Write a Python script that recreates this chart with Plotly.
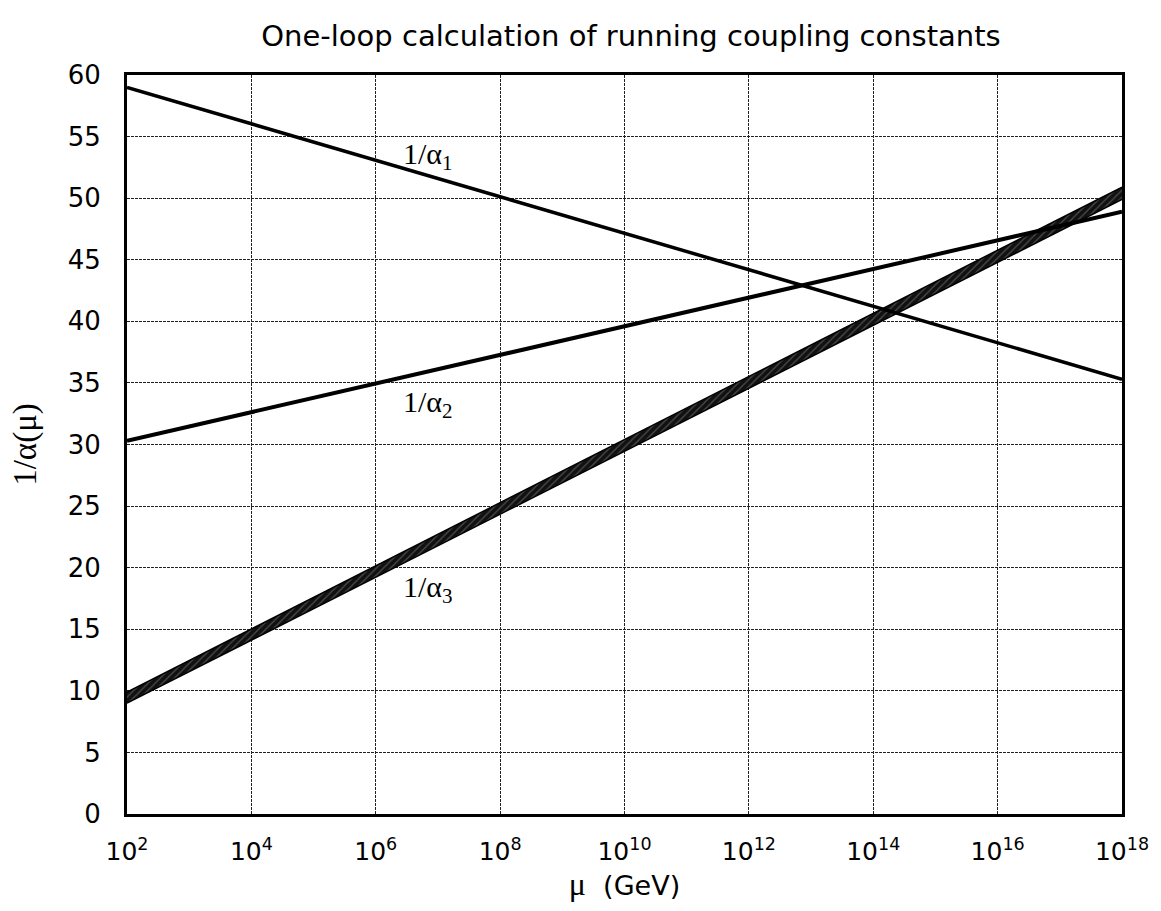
import plotly.graph_objects as go

# Energy scale endpoints (GeV) and inverse couplings read at each end
mu = [1e2, 1e18]
inv_alpha1 = [59.0, 35.3]
inv_alpha2 = [30.3, 48.9]
inv_alpha3_low = [9.0, 49.9]
inv_alpha3_high = [9.9, 50.9]

x_tickvals = [1e2, 1e4, 1e6, 1e8, 1e10, 1e12, 1e14, 1e16, 1e18]
x_ticktext = ["10<sup>%d</sup>" % e for e in range(2, 19, 2)]
y_tickvals = list(range(0, 61, 5))

# curve labels: (log10 mu at left edge of text, 1/alpha, text)
label_x = [6.41, 6.41, 6.41]
label_y = [53.4, 33.3, 18.3]
label_text = ["1/α<sub>1</sub>", "1/α<sub>2</sub>", "1/α<sub>3</sub>"]

fig = go.Figure()

# alpha_3 uncertainty band
fig.add_trace(go.Scatter(x=mu, y=inv_alpha3_low, mode="lines",
                         line=dict(color="black", width=1.5), showlegend=False))
fig.add_trace(go.Scatter(x=mu, y=inv_alpha3_high, mode="lines", fill="tonexty",
                         fillcolor="#222222",
                         fillpattern=dict(shape="/", fgcolor="#888888", bgcolor="#111111",
                                          size=5, solidity=0.25),
                         line=dict(color="black", width=1.5), showlegend=False))

fig.add_trace(go.Scatter(x=mu, y=inv_alpha1, mode="lines",
                         line=dict(color="black", width=3.5), showlegend=False))
fig.add_trace(go.Scatter(x=mu, y=inv_alpha2, mode="lines",
                         line=dict(color="black", width=4), showlegend=False))

serif = "Liberation Serif, Times New Roman, serif"
sans = "DejaVu Sans, Arial, Helvetica, sans-serif"

for xv, yv, txt in zip(label_x, label_y, label_text):
    fig.add_annotation(x=xv, y=yv, xref="x", yref="y", text=txt, showarrow=False,
                       xanchor="left",
                       font=dict(family=serif, size=30, color="black"))

fig.update_layout(
    width=1161, height=911,
    margin=dict(l=127, r=30, t=75, b=97),
    paper_bgcolor="white", plot_bgcolor="white",
    title=dict(text="One-loop calculation of running coupling constants",
               x=0.5435, xanchor="center", y=0.961, yanchor="middle",
               font=dict(family=sans, size=29, color="black")),
    font=dict(family=sans, color="black"),
)

fig.update_xaxes(
    type="log", range=[2, 18],
    tickvals=x_tickvals, ticktext=x_ticktext,
    tickfont=dict(family=sans, size=25, color="black"),
    showgrid=True, gridcolor="#222222", gridwidth=1, griddash="3px,1px",
    showline=True, linecolor="black", linewidth=3, mirror=True,
    ticks="", zeroline=False, ticklabelstandoff=13,
    title=dict(text="<span style='font-family:Liberation Serif;font-size:32px'>μ</span>  (GeV)",
               font=dict(family=sans, size=27, color="black"), standoff=8),
)
fig.update_yaxes(
    range=[0, 60], tickvals=y_tickvals,
    tickfont=dict(family=sans, size=26, color="black"),
    showgrid=True, gridcolor="#222222", gridwidth=1, griddash="3px,1px",
    showline=True, linecolor="black", linewidth=3, mirror=True,
    ticks="", zeroline=False, ticklabelstandoff=18,
    title=dict(text="1/α(μ)", font=dict(family=serif, size=33, color="black"), standoff=22),
)

fig.write_html("out.html")
